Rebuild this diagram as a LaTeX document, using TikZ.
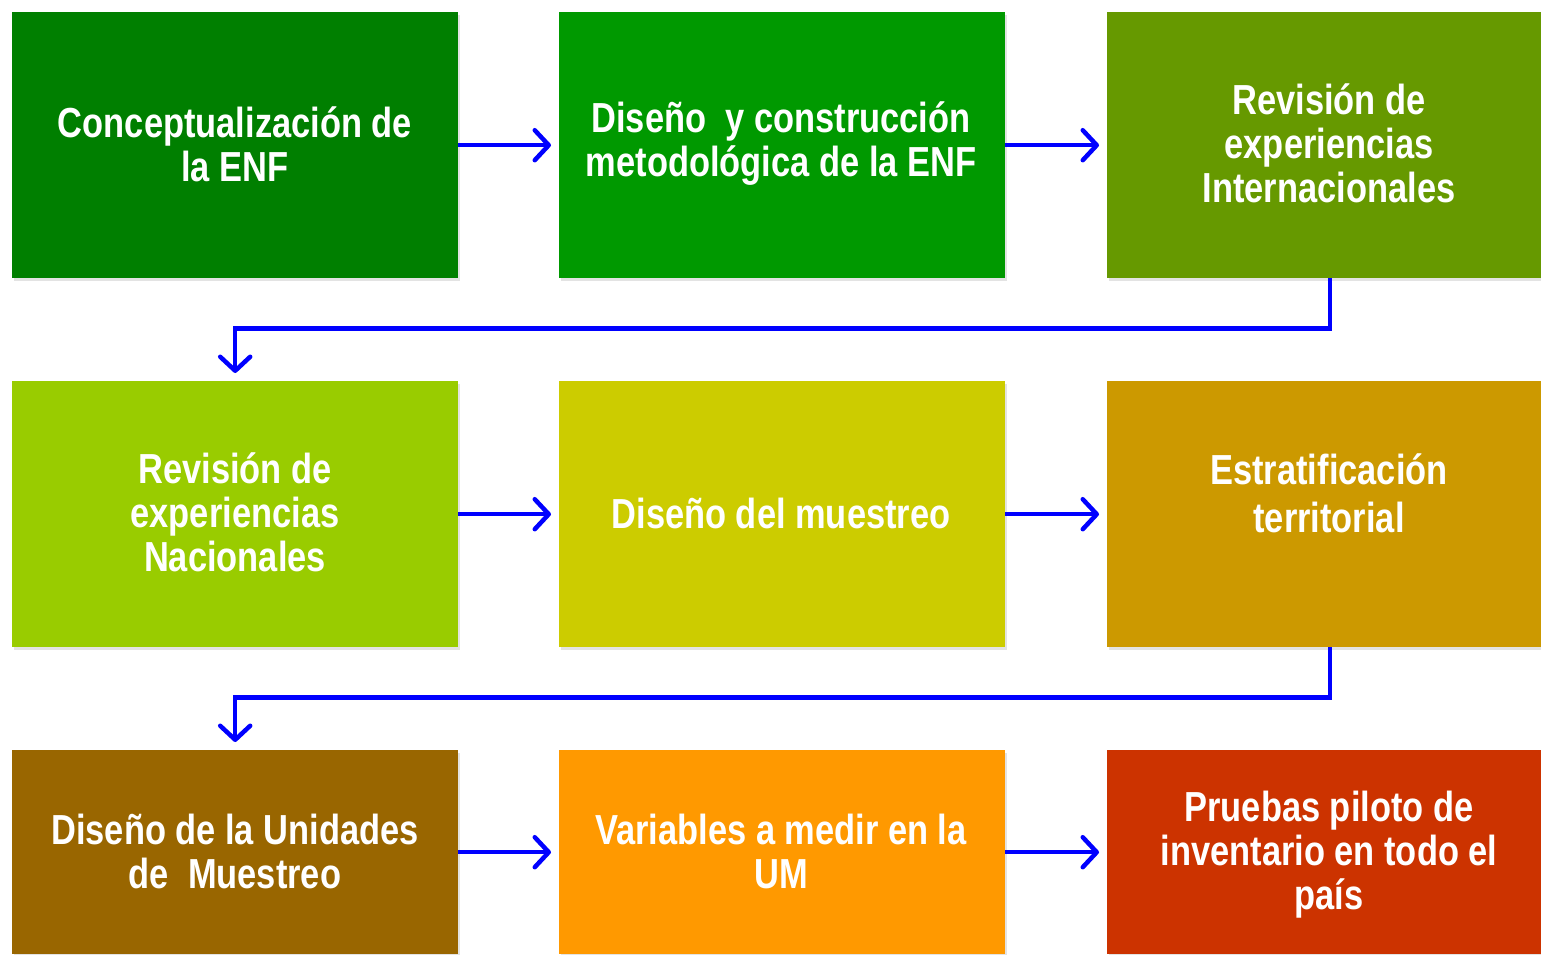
\documentclass[tikz,border=0pt]{standalone}
\usepackage{fontspec}
\newfontfamily\boxfont[FakeStretch=0.82]{Liberation Sans}
\usetikzlibrary{arrows.meta,shadows}
\definecolor{c1}{RGB}{0,127,0}
\definecolor{c2}{RGB}{0,153,0}
\definecolor{c3}{RGB}{102,153,0}
\definecolor{c4}{RGB}{153,204,0}
\definecolor{c5}{RGB}{204,204,0}
\definecolor{c6}{RGB}{204,153,0}
\definecolor{c7}{RGB}{153,102,0}
\definecolor{c8}{RGB}{255,153,0}
\definecolor{c9}{RGB}{204,51,0}
\definecolor{flow}{RGB}{0,0,255}
\begin{document}
\begin{tikzpicture}[x=1pt,y=-1pt,
  stepbox/.style={draw=none, minimum width=446pt, minimum height=266pt, anchor=north west,
    drop shadow={shadow xshift=2pt, shadow yshift=-3pt, opacity=0.18, fill=black!60}},
  lowbox/.style={stepbox, minimum height=204pt},
  lbl/.style={text=white, align=center, font=\boxfont\bfseries\fontsize{42}{44}\selectfont, inner sep=0pt},
  flowarrow/.style={draw=flow, line width=4.5pt, -{Straight Barb[length=14pt,width=30pt,round]}, shorten >=8pt}]
\useasboundingbox (0,0) rectangle (1541,954);
\begin{scope}
\clip (0,0) rectangle (1541,954);
% boxes
\node[stepbox, fill=c1] (b1) at (12,12) {};
\node[stepbox, fill=c2] (b2) at (559,12) {};
\node[stepbox, fill=c3] (b3) at (1107,12) {};
\node[stepbox, fill=c4] (b4) at (12,381) {};
\node[stepbox, fill=c5] (b5) at (559,381) {};
\node[stepbox, fill=c6] (b6) at (1107,381) {};
\node[lowbox, fill=c7] (b7) at (12,750) {};
\node[lowbox, fill=c8] (b8) at (559,750) {};
\node[lowbox, fill=c9] (b9) at (1107,750) {};
% labels
\node[lbl] (t1) at (235,144) {Conceptualización de\\la ENF};
\node[lbl] (t2) at (781,144) {Diseño\ \ y construcción\\metodológica de la ENF};
\node[lbl] (t3) at (1329,143) {Revisión de\\experiencias\\Internacionales};
\node[lbl] (t4) at (235,512) {Revisión de\\experiencias\\Nacionales};
\node[lbl] (t5) at (781,513) {Diseño del muestreo};
\node[lbl, font=\boxfont\bfseries\fontsize{42}{48}\selectfont] (t6) at (1329,493) {Estratificación\\territorial};
\node[lbl] (t7) at (235,851) {Diseño de la Unidades\\de\ \ Muestreo};
\node[lbl] (t8) at (781,851) {Variables a medir en la\\UM};
\node[lbl] (t9) at (1329,855) {Pruebas piloto de\\inventario en todo el\\país};
% connectors
\draw[flowarrow] (b1.east) -- (b2.west);
\draw[flowarrow] (b2.east) -- (b3.west);
\draw[flowarrow] (b4.east) -- (b5.west);
\draw[flowarrow] (b5.east) -- (b6.west);
\draw[flowarrow] (b7.east) -- (b8.west);
\draw[flowarrow] (b8.east) -- (b9.west);
\draw[flowarrow] (b3.south) -- ++(0,50) -| (b4.north);
\draw[flowarrow] (b6.south) -- ++(0,50) -| (b7.north);
\end{scope}
\end{tikzpicture}
\end{document}
